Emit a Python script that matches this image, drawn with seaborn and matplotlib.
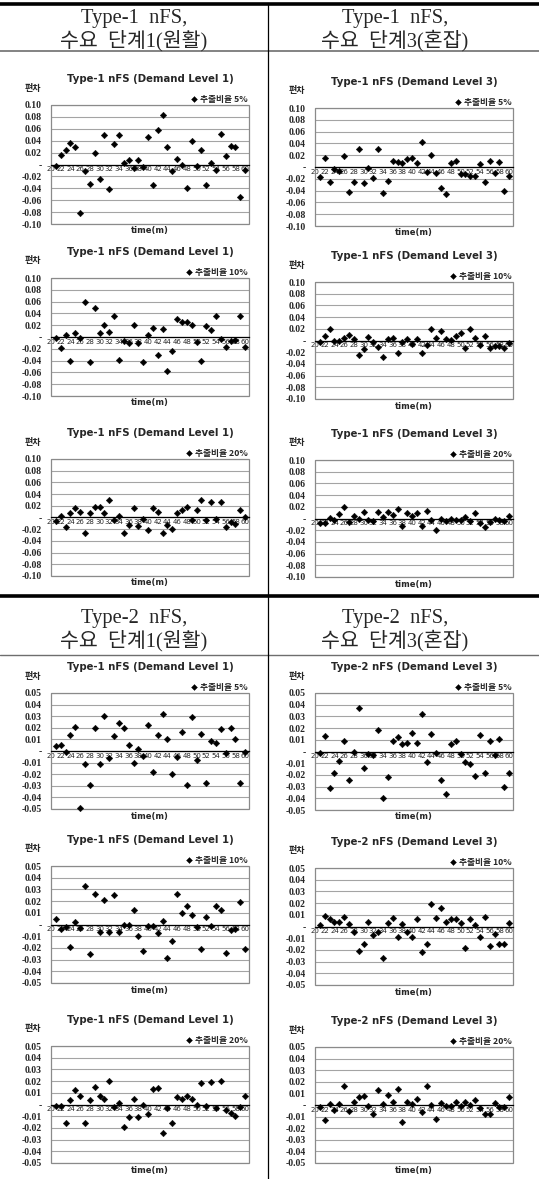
import matplotlib
matplotlib.use('Agg')
import numpy as np
import pandas as pd
import matplotlib.pyplot as plt
import seaborn as sns
from matplotlib.lines import Line2D
from matplotlib.patches import Rectangle
from matplotlib.ticker import FuncFormatter

# ---------------- data ----------------
TIME = [21, 22, 23, 24, 25, 26, 27, 28, 29, 30, 31, 32, 33, 34, 35, 36, 37, 38, 39, 40,
        41, 42, 43, 44, 45, 46, 47, 48, 49, 50, 51, 52, 53, 54, 55, 56, 57, 58, 59, 60]
XTICKS = [20, 22, 24, 26, 28, 30, 32, 34, 36, 38, 40, 42, 44, 46, 48, 50, 52, 54, 56, 58, 60]

T1_L1_05 = [-0.003, 0.016, 0.024, 0.036, 0.030, -0.081, -0.011, -0.033, 0.019, -0.024,
            0.049, -0.042, 0.034, 0.049, 0.003, 0.007, -0.006, 0.008, -0.004, 0.046,
            -0.034, 0.058, 0.084, 0.030, -0.011, 0.009, 0.000, -0.039, 0.039, -0.003,
            0.025, -0.035, 0.003, -0.010, 0.052, 0.014, 0.031, 0.029, -0.054, -0.010]
T1_L3_05 = [-0.017, 0.015, -0.025, -0.003, -0.006, 0.018, -0.043, -0.026, 0.031, -0.027,
            -0.001, -0.018, 0.030, -0.044, -0.024, 0.010, 0.008, 0.006, 0.014, 0.016,
            0.006, 0.042, -0.009, 0.020, -0.010, -0.035, -0.046, 0.006, 0.010, -0.012,
            -0.012, -0.015, -0.016, 0.005, -0.025, 0.010, -0.011, 0.009, -0.040, -0.016]
T1_L1_10 = [-0.002, -0.019, 0.003, -0.040, 0.007, -0.001, 0.059, -0.043, 0.049, 0.006,
            0.021, 0.009, 0.035, -0.039, -0.007, -0.010, 0.021, -0.011, -0.043, 0.004,
            0.016, -0.031, 0.014, -0.057, -0.023, 0.030, 0.025, 0.026, 0.020, -0.008,
            -0.041, 0.018, 0.012, 0.036, -0.004, -0.017, -0.006, -0.005, 0.035, -0.017]
T1_L3_10 = [-0.002, 0.008, 0.019, -0.001, 0.000, 0.005, 0.009, 0.003, -0.024, -0.015,
            0.006, -0.003, -0.011, -0.028, 0.003, 0.005, -0.021, -0.002, 0.003, -0.006,
            0.003, -0.021, -0.008, 0.020, 0.005, 0.017, 0.002, 0.001, 0.007, 0.012,
            -0.013, 0.019, 0.005, -0.007, 0.008, -0.013, -0.010, -0.010, -0.013, -0.004]
T1_L1_20 = [-0.006, 0.002, -0.017, 0.008, 0.016, 0.009, -0.026, 0.007, 0.018, 0.018,
            0.007, 0.030, -0.005, 0.002, -0.026, -0.012, 0.016, -0.015, -0.002, -0.021,
            0.016, 0.009, -0.026, -0.012, -0.020, 0.008, 0.013, 0.018, -0.004, 0.013,
            0.030, -0.005, 0.027, -0.002, 0.027, -0.017, -0.007, -0.011, 0.013, 0.000]
T1_L3_20 = [-0.007, -0.008, 0.001, -0.002, 0.007, 0.020, -0.006, 0.005, -0.001, 0.011,
            -0.002, -0.004, 0.011, 0.003, 0.011, 0.006, 0.016, -0.012, 0.009, 0.004,
            0.010, -0.012, 0.013, -0.002, -0.020, -0.001, -0.004, 0.000, -0.002, -0.002,
            0.003, -0.004, 0.010, -0.007, -0.015, -0.006, 0.000, -0.002, -0.004, 0.004]
T2_L1_05 = [0.004, 0.005, -0.001, 0.014, 0.021, -0.049, -0.011, -0.029, 0.020, -0.011,
            0.030, -0.006, 0.013, 0.024, 0.020, 0.005, -0.010, 0.002, -0.004, 0.022,
            -0.018, 0.014, 0.032, 0.010, -0.020, -0.005, 0.016, -0.029, 0.029, -0.008,
            0.015, -0.028, 0.009, 0.007, 0.019, -0.002, 0.020, 0.010, -0.028, -0.001]
T2_L3_05 = [-0.001, 0.013, -0.031, -0.018, -0.008, 0.009, -0.024, 0.000, 0.037, -0.014,
            -0.002, -0.003, 0.018, -0.040, -0.022, 0.009, 0.012, 0.006, 0.007, 0.016,
            0.007, 0.032, -0.009, 0.015, -0.001, -0.024, -0.036, 0.006, 0.009, -0.002,
            -0.009, -0.011, -0.021, 0.014, -0.018, 0.009, -0.003, 0.011, -0.030, -0.018]
T2_L1_10 = [0.005, -0.004, -0.002, -0.019, 0.002, -0.003, 0.033, -0.025, 0.026, -0.006,
            0.021, -0.006, 0.025, -0.006, 0.000, 0.000, 0.012, -0.010, -0.023, -0.001,
            -0.001, -0.007, 0.003, -0.029, -0.014, 0.026, 0.010, 0.016, 0.008, -0.002,
            -0.021, 0.006, -0.001, 0.016, 0.012, -0.024, -0.005, -0.004, 0.019, -0.021]
T2_L3_10 = [0.001, 0.009, 0.006, 0.004, 0.004, 0.008, 0.002, -0.005, -0.021, -0.015,
            0.004, -0.007, -0.005, -0.027, 0.003, 0.007, -0.009, 0.002, -0.005, -0.009,
            0.006, -0.022, -0.015, 0.019, 0.007, 0.016, 0.004, 0.006, 0.006, 0.003,
            -0.018, 0.006, 0.001, -0.009, 0.008, -0.017, -0.006, -0.015, -0.015, 0.003]
T2_L1_20 = [-0.001, -0.001, -0.016, 0.004, 0.012, 0.007, -0.016, 0.004, 0.015, 0.007,
            0.005, 0.020, -0.002, 0.001, -0.019, -0.011, 0.005, -0.011, 0.000, -0.008,
            0.013, 0.014, -0.024, -0.003, -0.016, 0.006, 0.005, 0.007, 0.005, 0.000,
            0.018, -0.001, 0.019, -0.003, 0.020, -0.005, -0.007, -0.010, -0.002, 0.007]
T2_L3_20 = [-0.002, -0.013, 0.001, -0.004, 0.001, 0.016, -0.005, 0.003, 0.007, 0.008,
            -0.001, -0.008, 0.013, 0.001, 0.009, 0.003, 0.014, -0.015, 0.003, 0.001,
            0.005, -0.006, 0.016, 0.000, -0.012, 0.002, -0.001, -0.001, 0.003, -0.001,
            0.003, 0.000, 0.004, -0.003, -0.008, -0.008, 0.002, -0.002, -0.002, 0.007]

TITLES = ["Type-1 nFS (Demand Level 1)", "Type-1 nFS (Demand Level 3)",
          "Type-1 nFS (Demand Level 1)", "Type-1 nFS (Demand Level 3)",
          "Type-1 nFS (Demand Level 1)", "Type-1 nFS (Demand Level 3)",
          "Type-1 nFS (Demand Level 1)", "Type-2 nFS (Demand Level 3)",
          "Type-1 nFS (Demand Level 1)", "Type-2 nFS (Demand Level 3)",
          "Type-1 nFS (Demand Level 1)", "Type-2 nFS (Demand Level 3)"]
LEGENDS = ["추출비율 5%", "추출비율 5%", "추출비율 10%", "추출비율 10%",
           "추출비율 20%", "추출비율 20%", "추출비율 5%", "추출비율 5%",
           "추출비율 10%", "추출비율 10%", "추출비율 20%", "추출비율 20%"]
SERIES = [T1_L1_05, T1_L3_05, T1_L1_10, T1_L3_10, T1_L1_20, T1_L3_20,
          T2_L1_05, T2_L3_05, T2_L1_10, T2_L3_10, T2_L1_20, T2_L3_20]
YMAX = [0.10] * 6 + [0.05] * 6
YSTEP = [0.02] * 6 + [0.01] * 6
HEADERS = ["Type-1  nFS,\n수요  단계1(원활)", "Type-1  nFS,\n수요  단계3(혼잡)",
           "Type-2  nFS,\n수요  단계1(원활)", "Type-2  nFS,\n수요  단계3(혼잡)"]
Y_LABEL = "편차"
X_LABEL = "time(m)"

# ---------------- layout (pixels) ----------------
W, H = 539, 1179
sns.set_style('white')
plt.rcParams['font.family'] = ['DejaVu Sans', 'Noto Sans CJK KR']
fig = plt.figure(figsize=(W / 100, H / 100), dpi=100)


def fx(x):
    return x / W


def fy(y):
    return 1 - y / H


COLS = [(51, 249), (315, 513)]
ROWS_L = [(105, 224), (278, 396), (459, 576), (693, 809), (866, 983), (1046, 1163)]
ROWS_R = [(108, 226), (282, 399), (460, 577), (693, 810), (868, 985), (1047, 1163)]
KFONT = ['Noto Sans CJK KR', 'DejaVu Sans']
SERIF = ['Liberation Serif', 'Noto Sans CJK KR']

for k in range(12):
    col = k % 2
    row = k // 2
    x0, x1 = COLS[col]
    y0, y1 = (ROWS_L if col == 0 else ROWS_R)[row]
    ax = fig.add_axes([fx(x0), fy(y1), (x1 - x0) / W, (y1 - y0) / H])
    df = pd.DataFrame({'time': TIME, 'dev': SERIES[k]})
    sns.scatterplot(data=df, x='time', y='dev', ax=ax, marker='D', color='black',
                    s=11, linewidth=0.3, edgecolor='black', label=LEGENDS[k],
                    zorder=5, clip_on=False)
    ym = YMAX[k]
    ax.set_xlim(20, 60.8)
    ax.set_ylim(-ym, ym)
    n = int(round(2 * ym / YSTEP[k]))
    ax.set_yticks(np.linspace(-ym, ym, n + 1))
    ax.yaxis.set_major_formatter(FuncFormatter(
        lambda v, p: '-' if abs(v) < 1e-9 else f'{v:.2f}'))
    ax.set_xticks(XTICKS)
    ax.set_xticklabels([str(t) for t in XTICKS])
    ax.tick_params(axis='x', length=0, pad=1.2, labelsize=5)
    ax.tick_params(axis='y', length=0, pad=6.5, labelsize=7)
    for lab in ax.get_xticklabels() + ax.get_yticklabels():
        lab.set_fontfamily('Liberation Serif')
        lab.set_fontweight('bold')
    ax.grid(axis='y', color='#a4a4a4', lw=0.8)
    ax.grid(axis='x', visible=False)
    for s in ['left', 'right', 'top']:
        ax.spines[s].set_visible(False)
    ax.spines['bottom'].set_position(('data', 0))
    ax.spines['bottom'].set_color('black')
    ax.spines['bottom'].set_linewidth(0.9)
    ax.add_patch(Rectangle((0, 0), 1, 1, transform=ax.transAxes, fill=False,
                           ec='#8a8a8a', lw=0.9, clip_on=False, zorder=2))
    ax.set_xlabel('')
    ax.set_ylabel('')
    ax.legend(loc='lower right', bbox_to_anchor=(1.0, 1.0), frameon=False,
              borderaxespad=0.15, borderpad=0, handlelength=0.5, handletextpad=0.4,
              markerscale=0.9,
              prop={'family': KFONT, 'weight': 'bold', 'size': 6.3})
    cx = (x0 + x1) / 2
    fig.text(fx(cx), fy(y0 - 26), TITLES[k], ha='center', va='center',
             fontsize=7.3, fontweight='bold', family='DejaVu Sans')
    fig.text(fx(x0 - 18), fy(y0 - 17), Y_LABEL, ha='center', va='center',
             fontsize=6.5, fontweight='bold', family=KFONT)
    fig.text(fx(cx), fy(y1 + 7), X_LABEL, ha='center', va='center',
             fontsize=6, fontweight='bold', family='DejaVu Sans')

# ---------------- table frame ----------------
def hline(y, lw, color):
    fig.add_artist(Line2D([0, 1], [fy(y), fy(y)], transform=fig.transFigure,
                          color=color, lw=lw))

hline(4, 2.6, 'black')
hline(51, 1.2, '#6e6e6e')
hline(596, 2.6, 'black')
hline(655, 1.0, '#6e6e6e')
fig.add_artist(Line2D([fx(267.5), fx(267.5)], [fy(3), 0], transform=fig.transFigure,
                      color='black', lw=0.9))

HX = [134, 395]
HY = [30, 630]
for i, txt in enumerate(HEADERS):
    fig.text(fx(HX[i % 2]), fy(HY[i // 2]), txt, ha='center', va='center',
             fontsize=14.8, family=SERIF, linespacing=1.1)

fig.savefig('out.png', dpi=100)
